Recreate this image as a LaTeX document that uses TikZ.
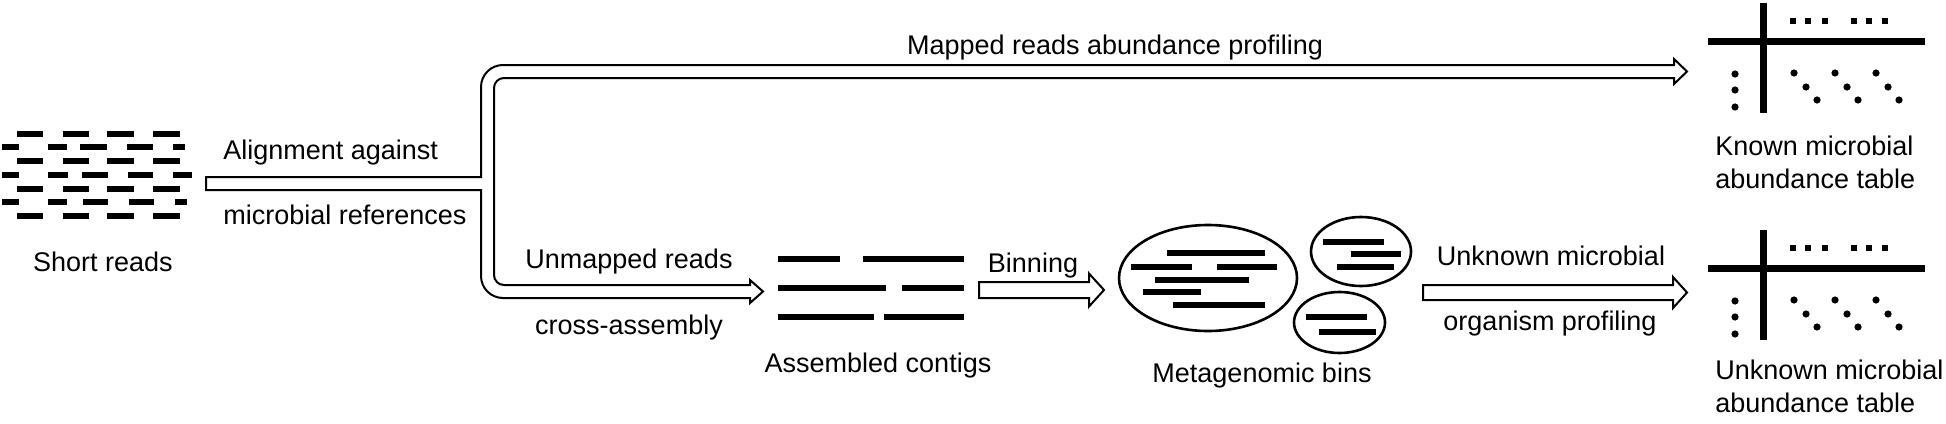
\documentclass[tikz,border=0pt]{standalone}
\usepackage{fontspec}
\setmainfont{Liberation Sans}
\usetikzlibrary{calc,shapes.geometric}
\tikzset{
 outl/.style={draw=black, line width=1pt, line join=miter, fill=white},
 bar/.style={line width=3pt},
 rbar/.style={line width=2.85pt},
 tbl/.style={line width=3.5pt},
 lbl/.style={inner sep=0pt, font=\fontsize{13.5pt}{16pt}\selectfont},
 binell/.style={ellipse, draw, line width=1.3pt, inner sep=0pt},
}
\newcommand\hollowarrow[5]{%
 \draw[outl] ($(#1)+(0,-#3)$) -- ($(#2)+(-#5,-#3)$) -- ($(#2)+(-#5,-#4)$) -- (#2)
   -- ($(#2)+(-#5,#4)$) -- ($(#2)+(-#5,#3)$) -- ($(#1)+(0,#3)$) -- cycle;}
\begin{document}
\begin{tikzpicture}[x=0.5pt,y=-0.5pt]
\useasboundingbox (0,0) rectangle (1946,423);

% short reads
\foreach \y in {134,161,189,216}
  \foreach \a/\b in {17/43,63/89,107/134,153/180} \draw[rbar] (\a,\y) -- (\b,\y);
\foreach \a/\b in {2/19,48/67,80/107,127/153,173/185} \draw[rbar] (\a,147) -- (\b,147);
\foreach \a/\b in {2/19,48/68,82/108,128/153,173/192} \draw[rbar] (\a,175) -- (\b,175);
\foreach \a/\b in {2/19,48/67,83/108,129/154,175/187} \draw[rbar] (\a,202) -- (\b,202);
\node[lbl, anchor=base] (sr) at (103,271) {Short reads};

% branching hollow arrow
\draw[outl] (206,177) -- (481,177) -- (481,87)
  .. controls (481,74.85) and (490.85,65) .. (503,65)
  -- (1674,65) -- (1674,59) -- (1687,71.5) -- (1674,84) -- (1674,78)
  -- (504,78) .. controls (498.48,78) and (494,82.48) .. (494,88)
  -- (494,275) .. controls (494,280.52) and (498.48,285) .. (504,285)
  -- (750,285) -- (750,280) -- (763,291.5) -- (750,303) -- (750,298)
  -- (503,298) .. controls (490.85,298) and (481,288.15) .. (481,276)
  -- (481,190) -- (206,190) -- cycle;
\node[lbl, anchor=base west] (al1) at (223,159) {Alignment against};
\node[lbl, anchor=base west] (al2) at (223,224) {microbial references};
\node[lbl, anchor=base] (map) at (1115,54) {Mapped reads abundance profiling};
\node[lbl, anchor=base] (um1) at (629,268) {Unmapped reads};
\node[lbl, anchor=base] (um2) at (629,334) {cross-assembly};

% contigs
\foreach \y/\a/\b/\c/\d in {259/778/840/863/964, 288/778/886/902/964, 317/778/874/884/964}
  {\draw[bar] (\a,\y) -- (\b,\y); \draw[bar] (\c,\y) -- (\d,\y);}
\node[lbl, anchor=base] (ac) at (878,372) {Assembled contigs};

% binning arrow
\coordinate (binS) at (979,290);
\coordinate (binE) at (1104,290);
\hollowarrow{binS}{binE}{8}{16.5}{15}
\node[lbl, anchor=base] (bn) at (1033,272) {Binning};

% bins
\node[binell, minimum width=89pt, minimum height=53pt] (b1) at (1208,278) {};
\node[binell, minimum width=50pt, minimum height=34.5pt] (b2) at (1361,251.5) {};
\node[binell, minimum width=45.5pt, minimum height=30.5pt] (b3) at (1339.5,322.5) {};
\foreach \y/\a/\b in {253/1167/1265, 267/1131/1192, 267/1217/1277, 280/1155/1249, 292/1143/1201, 305/1173/1265,
  242/1323/1384, 254/1351/1401, 267/1337/1394, 317/1306/1367, 332/1319/1376}
  \draw[bar] (\a,\y) -- (\b,\y);
\node[lbl, anchor=base] (mb) at (1262,382) {Metagenomic bins};

% profiling arrow
\coordinate (prS) at (1423,292.5);
\coordinate (prE) at (1687,292.5);
\hollowarrow{prS}{prE}{7.5}{15.5}{14}
\node[lbl, anchor=base] (pr1) at (1551,265) {Unknown microbial};
\node[lbl, anchor=base] (pr2) at (1550,330) {organism profiling};

% tables
\foreach \dy in {0,227} {
 \begin{scope}[shift={(0,\dy)}]
  \draw[tbl] (1708,41) -- (1925,41);
  \draw[tbl] (1763,3) -- (1763,113);
  \foreach \x in {1793,1808,1825,1854,1869,1885} \fill (\x-3,18) rectangle (\x+3,24);
  \foreach \y in {74,90,107} \fill (1735,\y) circle[radius=1.8pt];
  \foreach \x in {1794,1835,1876} {
    \fill (\x,73) circle[radius=1.8pt];
    \fill (\x+12,87) circle[radius=1.8pt];
    \fill (\x+23,100) circle[radius=1.8pt];}
 \end{scope}}
\node[lbl, anchor=base west] (k1) at (1715,155) {Known microbial};
\node[lbl, anchor=base west] (k2) at (1715,188) {abundance table};
\node[lbl, anchor=base west] (u1) at (1715,379) {Unknown microbial};
\node[lbl, anchor=base west] (u2) at (1715,412) {abundance table};
\end{tikzpicture}
\end{document}
